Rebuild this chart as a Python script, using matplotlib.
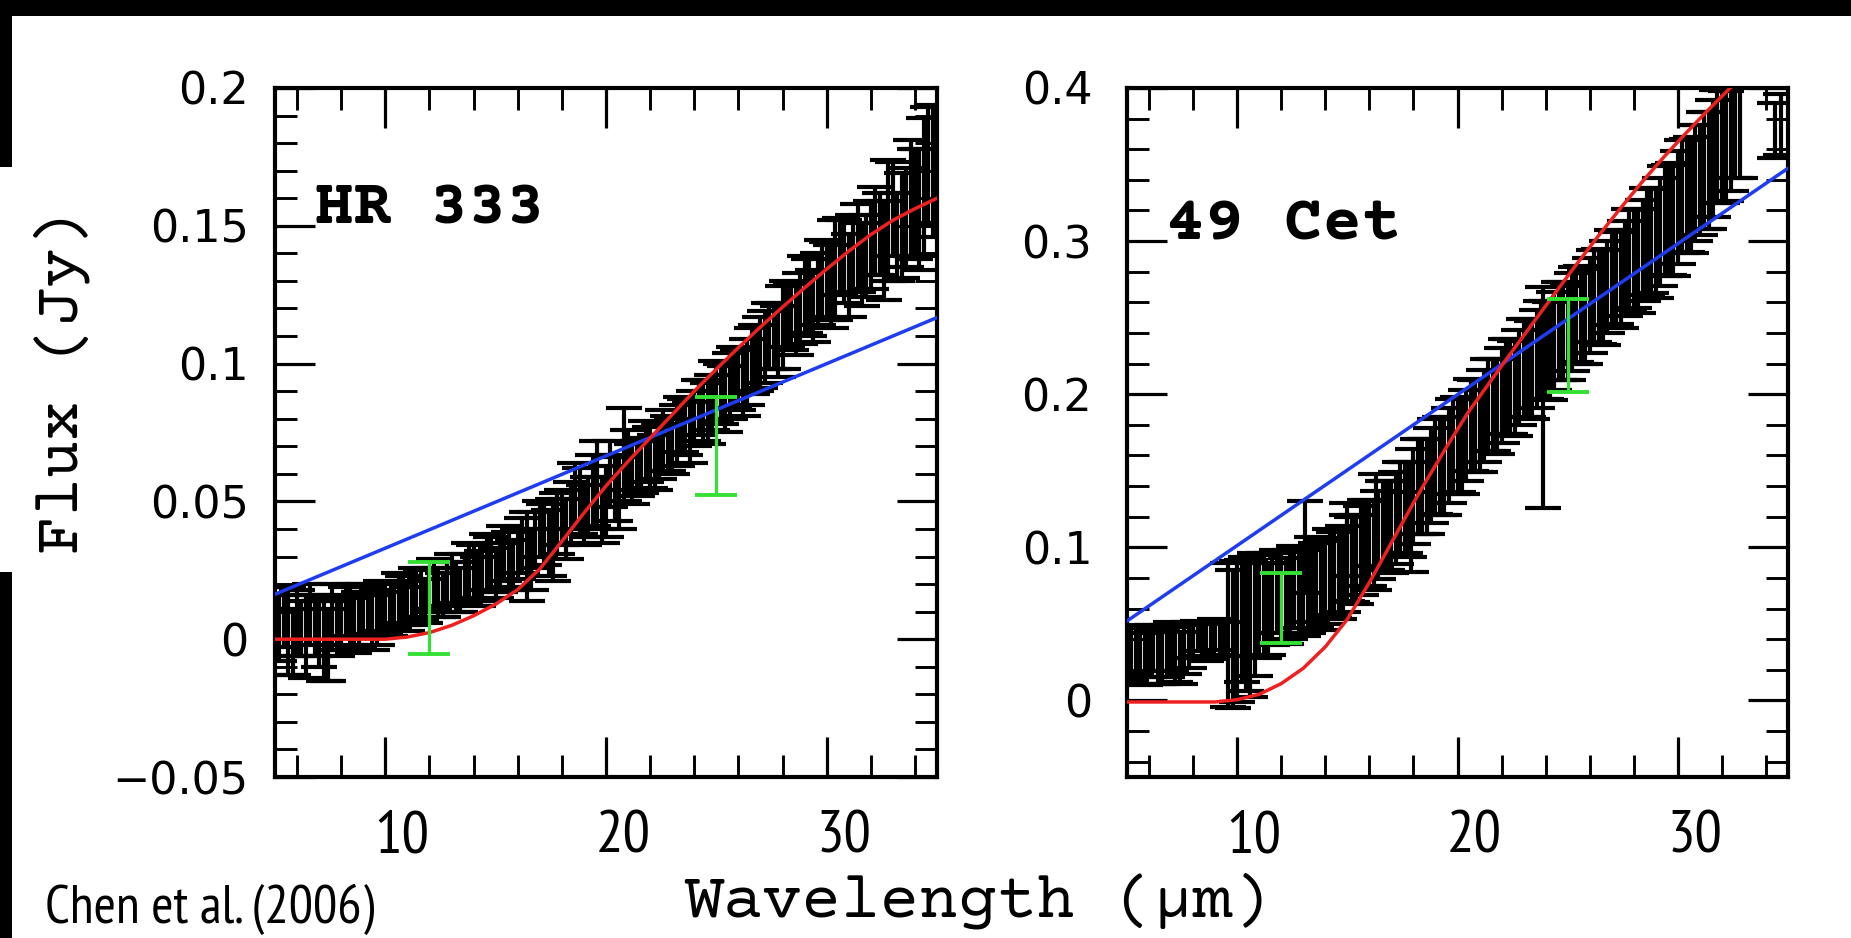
import matplotlib
matplotlib.use("Agg")
import matplotlib.pyplot as plt
from matplotlib import font_manager
from matplotlib.transforms import ScaledTranslation
from matplotlib.patches import Rectangle

# ---------------- data ----------------
# HR 333 : IRS spectrum (wavelength, flux, error) -- two interleaved read-off sets
hr_x = [5.2, 5.6, 6.0, 6.4, 6.8, 7.2, 7.6, 8.0, 8.4, 8.8, 9.2, 9.6, 10.0, 10.4, 10.8,
        11.2, 11.6, 12.0, 12.4, 12.8, 13.2, 13.6, 14.0, 14.4, 14.8, 15.2, 15.6, 16.0,
        16.4, 16.8, 17.2, 17.6, 18.0, 18.4, 18.8, 19.2, 19.6, 20.0, 20.4, 20.8, 21.2,
        21.6, 22.0, 22.4, 22.8, 23.2, 23.6, 24.0, 24.4, 24.8, 25.2, 25.6, 26.0, 26.4,
        26.8, 27.2, 27.6, 28.0, 28.4, 28.8, 29.2, 29.6, 30.0, 30.4, 30.8, 31.2, 31.6,
        32.0, 32.4, 32.8, 33.2, 33.6, 34.0, 34.4, 34.8]
hr_y = [0.004, 0.003, 0.006, 0.001, 0.005, 0.000, 0.008, 0.006, 0.009, 0.007, 0.010,
        0.008, 0.011, 0.012, 0.014, 0.013, 0.016, 0.018, 0.017, 0.020, 0.019, 0.022,
        0.024, 0.023, 0.027, 0.026, 0.029, 0.031, 0.030, 0.036, 0.038, 0.036, 0.044,
        0.046, 0.050, 0.048, 0.056, 0.050, 0.055, 0.067, 0.060, 0.063, 0.066, 0.068,
        0.071, 0.074, 0.077, 0.080, 0.083, 0.086, 0.089, 0.092, 0.094, 0.097, 0.102,
        0.106, 0.110, 0.113, 0.117, 0.120, 0.124, 0.127, 0.130, 0.134, 0.137, 0.140,
        0.136, 0.143, 0.147, 0.152, 0.146, 0.153, 0.158, 0.164, 0.170]
hr_err = [0.012, 0.016, 0.012, 0.015, 0.011, 0.015, 0.012, 0.010, 0.011, 0.010, 0.009,
          0.010, 0.009, 0.008, 0.009, 0.008, 0.009, 0.008, 0.009, 0.008, 0.009, 0.009,
          0.010, 0.009, 0.010, 0.009, 0.010, 0.009, 0.016, 0.010, 0.011, 0.015, 0.010,
          0.011, 0.012, 0.011, 0.016, 0.013, 0.012, 0.017, 0.011, 0.010, 0.011, 0.010,
          0.010, 0.011, 0.010, 0.010, 0.011, 0.010, 0.011, 0.012, 0.011, 0.012, 0.012,
          0.013, 0.012, 0.015, 0.012, 0.013, 0.014, 0.013, 0.014, 0.018, 0.015, 0.014,
          0.015, 0.016, 0.015, 0.022, 0.016, 0.018, 0.020, 0.025, 0.024]
hr_x2 = [5.4, 5.8, 6.2, 6.6, 7.0, 7.4, 7.8, 8.2, 8.6, 9.0, 9.4, 9.8, 10.2, 10.6, 11.0,
         11.4, 11.8, 12.2, 12.6, 13.0, 13.4, 13.8, 14.2, 14.6, 15.0, 15.4, 15.8, 16.2,
         16.6, 17.0, 17.4, 17.8, 18.2, 18.6, 19.0, 19.4, 19.8, 20.2, 20.6, 21.0, 21.4,
         21.8, 22.2, 22.6, 23.0, 23.4, 23.8, 24.2, 24.6, 25.0, 25.4, 25.8, 26.2, 26.6,
         27.0, 27.4, 27.8, 28.2, 28.6, 29.0, 29.4, 29.8, 30.2, 30.6, 31.0, 31.4, 31.8,
         32.2, 32.6, 33.0, 33.4, 33.8, 34.2, 34.6]
hr_y2 = [0.008, -0.001, 0.004, 0.009, 0.002, -0.002, 0.004, 0.010, 0.005, 0.011, 0.006,
         0.012, 0.009, 0.015, 0.011, 0.017, 0.014, 0.020, 0.016, 0.022, 0.018, 0.025,
         0.021, 0.028, 0.024, 0.031, 0.027, 0.034, 0.029, 0.040, 0.035, 0.042, 0.040,
         0.052, 0.045, 0.054, 0.047, 0.060, 0.053, 0.065, 0.062, 0.068, 0.064, 0.072,
         0.070, 0.078, 0.075, 0.084, 0.082, 0.090, 0.087, 0.095, 0.093, 0.101, 0.104,
         0.110, 0.108, 0.118, 0.116, 0.125, 0.121, 0.131, 0.128, 0.139, 0.132, 0.142,
         0.139, 0.148, 0.141, 0.156, 0.150, 0.160, 0.156, 0.172]
hr_err2 = [0.011, 0.012, 0.010, 0.011, 0.012, 0.013, 0.010, 0.009, 0.010, 0.009, 0.010,
           0.009, 0.008, 0.009, 0.008, 0.009, 0.008, 0.009, 0.008, 0.009, 0.008, 0.010,
           0.009, 0.010, 0.009, 0.010, 0.009, 0.010, 0.011, 0.010, 0.012, 0.011, 0.011,
           0.012, 0.011, 0.013, 0.012, 0.012, 0.013, 0.011, 0.010, 0.011, 0.010, 0.011,
           0.010, 0.010, 0.011, 0.010, 0.011, 0.011, 0.012, 0.011, 0.012, 0.012, 0.013,
           0.012, 0.013, 0.012, 0.013, 0.014, 0.013, 0.014, 0.015, 0.014, 0.015, 0.016,
           0.015, 0.016, 0.018, 0.017, 0.019, 0.021, 0.022, 0.021]

# 49 Cet : IRS spectrum (wavelength, flux, error) -- two interleaved read-off sets
ce_x = [5.2, 5.6, 6.0, 6.4, 6.8, 7.2, 7.6, 8.0, 8.4, 8.8, 9.2, 9.6, 10.0, 10.4, 10.8,
        11.2, 11.6, 12.0, 12.4, 12.8, 13.1, 13.2, 13.6, 14.0, 14.4, 14.8, 15.0, 15.2,
        15.6, 16.0, 16.3, 16.4, 16.8, 17.2, 17.6, 17.9, 18.0, 18.4, 18.8, 19.2, 19.6,
        20.0, 20.4, 20.8, 21.2, 21.6, 22.0, 22.4, 22.8, 23.2, 23.6, 23.9, 24.0, 24.4,
        24.8, 25.2, 25.6, 26.0, 26.4, 26.8, 27.2, 27.6, 28.0, 28.4, 28.8, 29.2, 29.6,
        30.0, 30.4, 30.8, 31.0, 31.2, 31.6, 32.0, 32.4, 32.8, 34.4, 34.7]
ce_y = [0.030, 0.029, 0.031, 0.028, 0.032, 0.030, 0.033, 0.039, 0.040, 0.039, 0.041,
        0.043, 0.045, 0.050, 0.056, 0.062, 0.066, 0.068, 0.069, 0.071, 0.100, 0.072,
        0.075, 0.078, 0.082, 0.086, 0.105, 0.092, 0.098, 0.103, 0.118, 0.108, 0.114,
        0.119, 0.126, 0.110, 0.133, 0.140, 0.147, 0.153, 0.160, 0.167, 0.173, 0.179,
        0.186, 0.193, 0.199, 0.205, 0.211, 0.217, 0.223, 0.198, 0.229, 0.235, 0.241,
        0.247, 0.252, 0.258, 0.264, 0.270, 0.276, 0.282, 0.288, 0.294, 0.300, 0.306,
        0.314, 0.322, 0.330, 0.338, 0.340, 0.346, 0.354, 0.362, 0.369, 0.375, 0.372,
        0.376]
ce_err = [0.017, 0.018, 0.016, 0.017, 0.017, 0.018, 0.016, 0.011, 0.011, 0.012, 0.011,
          0.047, 0.046, 0.044, 0.040, 0.034, 0.030, 0.029, 0.029, 0.028, 0.030, 0.028,
          0.028, 0.028, 0.028, 0.028, 0.024, 0.028, 0.029, 0.028, 0.030, 0.029, 0.029,
          0.030, 0.030, 0.026, 0.031, 0.031, 0.031, 0.032, 0.031, 0.031, 0.030, 0.030,
          0.030, 0.030, 0.031, 0.031, 0.031, 0.032, 0.032, 0.072, 0.032, 0.032, 0.032,
          0.032, 0.032, 0.031, 0.031, 0.030, 0.030, 0.031, 0.032, 0.033, 0.034, 0.035,
          0.036, 0.037, 0.037, 0.038, 0.036, 0.038, 0.038, 0.037, 0.036, 0.034, 0.018,
          0.020]
ce_x2 = [5.4, 5.8, 6.2, 6.6, 7.0, 7.4, 7.8, 8.2, 8.6, 9.0, 9.4, 9.8, 10.2, 10.6, 11.0,
         11.4, 11.8, 12.2, 12.6, 13.0, 13.4, 13.8, 14.2, 14.6, 15.0, 15.4, 15.8, 16.2,
         16.6, 17.0, 17.4, 17.8, 18.2, 18.6, 19.0, 19.4, 19.8, 20.2, 20.6, 21.0, 21.4,
         21.8, 22.2, 22.6, 23.0, 23.4, 23.8, 24.2, 24.6, 25.0, 25.4, 25.8, 26.2, 26.6,
         27.0, 27.4, 27.8, 28.2, 28.6, 29.0, 29.4, 29.8, 30.2, 30.6, 31.4, 31.8, 32.2,
         32.6]
ce_y2 = [0.033, 0.027, 0.034, 0.029, 0.035, 0.028, 0.036, 0.042, 0.038, 0.043, 0.040,
         0.040, 0.052, 0.047, 0.062, 0.060, 0.071, 0.065, 0.074, 0.070, 0.079, 0.075,
         0.084, 0.082, 0.093, 0.092, 0.103, 0.101, 0.114, 0.113, 0.126, 0.125, 0.140,
         0.140, 0.153, 0.153, 0.166, 0.166, 0.180, 0.179, 0.193, 0.192, 0.205, 0.204,
         0.217, 0.216, 0.229, 0.228, 0.241, 0.240, 0.252, 0.251, 0.264, 0.263, 0.276,
         0.275, 0.288, 0.287, 0.300, 0.299, 0.313, 0.314, 0.329, 0.330, 0.346, 0.362,
         0.362, 0.375]
ce_err2 = [0.016, 0.017, 0.015, 0.018, 0.016, 0.017, 0.015, 0.010, 0.012, 0.010, 0.011,
           0.045, 0.040, 0.045, 0.033, 0.030, 0.027, 0.028, 0.027, 0.028, 0.028, 0.029,
           0.028, 0.029, 0.028, 0.029, 0.028, 0.029, 0.029, 0.030, 0.030, 0.031, 0.031,
           0.031, 0.031, 0.032, 0.031, 0.031, 0.030, 0.030, 0.030, 0.031, 0.031, 0.031,
           0.032, 0.032, 0.032, 0.032, 0.032, 0.031, 0.031, 0.031, 0.030, 0.031, 0.031,
           0.032, 0.033, 0.034, 0.035, 0.036, 0.036, 0.037, 0.037, 0.038, 0.038, 0.037,
           0.036, 0.034]

# model curves (red) and photospheres (blue)
hr_red_x = [5, 8, 10, 11, 12, 13, 14, 15, 16, 17, 18, 19, 20, 21, 22, 23, 24, 25, 26,
            27, 28, 29, 30, 31, 32, 33, 34, 35]
hr_red_y = [0.0, 0.0, 0.0, 0.0008, 0.0024, 0.005, 0.0085, 0.0127, 0.018, 0.0255, 0.0355,
            0.0458, 0.0556, 0.0645, 0.0730, 0.0815, 0.0900, 0.0980, 0.1058, 0.1133,
            0.1205, 0.1275, 0.1343, 0.1408, 0.1468, 0.1520, 0.1562, 0.1600]
hr_blue_x = [5, 35]
hr_blue_y = [0.0163, 0.1167]

ce_red_x = [5, 7, 9, 10, 11, 12, 13, 14, 15, 16, 17, 18, 18.5, 19.5, 20.5, 21.5, 22.3,
            23.4, 24.4, 25.4, 26.4, 27.4, 28.4, 29.4, 30.4, 31.3, 32.2, 33.0]
ce_red_y = [-0.001, -0.001, -0.001, 0.0005, 0.004, 0.011, 0.021, 0.035, 0.053, 0.077,
            0.103, 0.129, 0.1415, 0.1655, 0.1885, 0.2085, 0.2245, 0.2460, 0.2655, 0.2848,
            0.3035, 0.3215, 0.3390, 0.3555, 0.3710, 0.3845, 0.3975, 0.4090]
ce_blue_x = [5, 35]
ce_blue_y = [0.0519, 0.3476]

# IRAS photometry (green)
hr_g_x = [12, 25]
hr_g_y = [0.01125, 0.07015]
hr_g_err = [0.01675, 0.01775]
ce_g_x = [12, 25]
ce_g_y = [0.0604, 0.2319]
ce_g_err = [0.0230, 0.0306]

x_ticks = [10, 20, 30]
hr_yticks = [-0.05, 0, 0.05, 0.1, 0.15, 0.2]
hr_ylabels = ["\u22120.05", "0", "0.05", "0.1", "0.15", "0.2"]
ce_yticks = [0, 0.1, 0.2, 0.3, 0.4]
ce_ylabels = ["0", "0.1", "0.2", "0.3", "0.4"]


# ---------------- fonts ----------------
def pick(cands, default):
    for c in cands:
        try:
            font_manager.findfont(font_manager.FontProperties(family=c),
                                  fallback_to_default=False)
            return c
        except Exception:
            pass
    return default


mono = pick(["Courier Prime", "FreeMono", "Nimbus Mono PS"], "DejaVu Sans Mono")
narrow = pick(["Arimo Narrow", "PT Sans Narrow", "Roboto Condensed", "Archivo Narrow",
               "Arimo"], "Liberation Sans")

W, H, DPI = 1851, 938, 100
fig = plt.figure(figsize=(W / DPI, H / DPI), dpi=DPI, facecolor="white")

# black frame pieces of the screenshot
for (x0, y0, w, h) in [(0, 0, W, 16), (0, 0, 12, 167), (0, 572, 12, H - 572)]:
    fig.patches.append(Rectangle((x0 / W, 1 - (y0 + h) / H), w / W, h / H,
                                 transform=fig.transFigure, facecolor="black",
                                 edgecolor="none", zorder=0))

ax1 = fig.add_axes([275 / W, 1 - 777 / H, 662 / W, 689 / H])
ax2 = fig.add_axes([1127 / W, 1 - 777 / H, 661 / W, 689 / H])

RED = "#ee2020"
BLUE = "#1f3df0"
GREEN = "#33e033"


def style(ax, ylim, yticks, ylabels, yminor, ypad):
    ax.set_xlim(5, 35)
    ax.set_ylim(*ylim)
    ax.set_xticks(x_ticks)
    ax.set_xticks([v for v in range(6, 35, 2) if v % 10 != 0], minor=True)
    ax.set_yticks(yticks)
    ax.set_yticklabels(ylabels)
    ax.set_yticks(yminor, minor=True)
    for s in ax.spines.values():
        s.set_linewidth(3.0)
    ax.tick_params(which="major", direction="in", top=True, right=True,
                   length=29, width=2.3, color="black")
    ax.tick_params(which="minor", direction="in", top=True, right=True,
                   length=16, width=2.1, color="black")
    ax.tick_params(axis="x", which="major", pad=24, labelsize=44)
    ax.tick_params(axis="y", which="major", pad=ypad, labelsize=32)
    for lab in ax.get_xticklabels():
        lab.set_fontfamily(narrow)
        lab.set_transform(lab.get_transform() + ScaledTranslation(17 / DPI, 0, fig.dpi_scale_trans))
    for lab in ax.get_yticklabels():
        lab.set_fontfamily("DejaVu Sans")


hr_minor = [round(-0.05 + 0.01 * i, 3) for i in range(26)]
ce_minor = [round(-0.04 + 0.02 * i, 3) for i in range(23)]
style(ax1, (-0.05, 0.2), hr_yticks, hr_ylabels, hr_minor, 19)
style(ax2, (-0.05, 0.4), ce_yticks, ce_ylabels, ce_minor, 25)

eb_kw = dict(fmt="none", ecolor="black", elinewidth=3.0, capsize=13, capthick=3.0, zorder=2)
ax1.errorbar(hr_x, hr_y, yerr=hr_err, **eb_kw)
ax1.errorbar(hr_x2, hr_y2, yerr=hr_err2, **eb_kw)
ax2.errorbar(ce_x, ce_y, yerr=ce_err, **eb_kw)
ax2.errorbar(ce_x2, ce_y2, yerr=ce_err2, **eb_kw)

ax1.plot(hr_blue_x, hr_blue_y, color=BLUE, lw=2.5, zorder=3)
ax1.plot(hr_red_x, hr_red_y, color=RED, lw=2.5, zorder=4)
ax2.plot(ce_blue_x, ce_blue_y, color=BLUE, lw=2.5, zorder=3)
ax2.plot(ce_red_x, ce_red_y, color=RED, lw=2.5, zorder=4)

g_kw = dict(fmt="none", ecolor=GREEN, elinewidth=2.3, capsize=15, capthick=2.8, zorder=5)
ax1.errorbar(hr_g_x, hr_g_y, yerr=hr_g_err, **g_kw)
ax2.errorbar(ce_g_x, ce_g_y, yerr=ce_g_err, **g_kw)

ax1.text(6.8, 0.1507, "HR 333", family=mono, fontweight="bold", fontsize=46,
         va="baseline", ha="left", zorder=6)
ax2.text(6.75, 0.301, "49 Cet", family=mono, fontweight="bold", fontsize=47,
         va="baseline", ha="left", zorder=6)

fig.text(62 / W, 1 - 382 / H, "Flux (Jy)", family=mono, fontsize=46, rotation=90,
         ha="center", va="center")
fig.text(978 / W, 1 - 901 / H, "Wavelength (\u03bcm)", family=mono, fontsize=47,
         ha="center", va="center")
fig.text(45 / W, 1 - 909 / H, "Chen et al. (2006)", family=narrow, fontsize=39,
         ha="left", va="center")

fig.savefig("out.png", dpi=DPI, facecolor="white")
